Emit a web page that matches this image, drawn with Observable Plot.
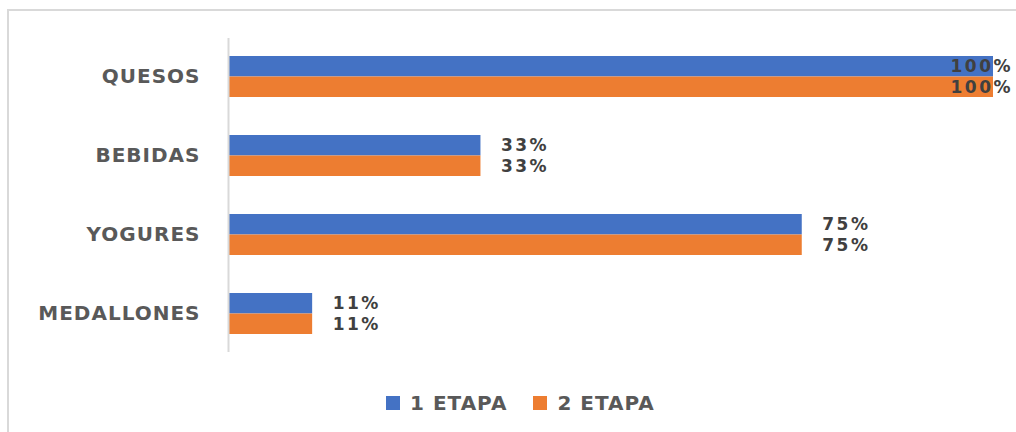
<!DOCTYPE html>
<html>
<head>
<meta charset="utf-8">
<script src="https://cdn.jsdelivr.net/npm/d3@7"></script>
<script src="https://cdn.jsdelivr.net/npm/@observablehq/plot@0.6"></script>
<style>
  html, body { margin: 0; padding: 0; background: #fff; }
  #wrap { position: relative; width: 1016px; height: 432px; overflow: hidden; font-family: "DejaVu Sans", sans-serif; }
  #border { position: absolute; left: 7px; top: 9px; width: 1100px; height: 500px; border-left: 2px solid #d9d9d9; border-top: 2px solid #d9d9d9; box-sizing: border-box; pointer-events: none; }
  #legend { position: absolute; left: 386px; top: 391px; display: flex; align-items: center; font-size: 20px; font-weight: bold; letter-spacing: 1px; color: #595959; }
  #legend .item { display: flex; align-items: center; margin-right: 26px; }
  #legend .sw { width: 14px; height: 14px; margin-right: 10px; }
  .vlabel text { letter-spacing: 2.5px; }
</style>
</head>
<body>
<div id="wrap"><div id="chart"></div><div id="border"></div><div id="legend"></div></div>
<script>
const categories = ["QUESOS", "BEBIDAS", "YOGURES", "MEDALLONES"];
const etapa1 = [100, 33, 75, 11];
const etapa2 = [100, 33, 75, 11];
const seriesNames = ["1 ETAPA", "2 ETAPA"];
const seriesColors = ["#4472C4", "#ED7D31"];

const data = categories.map((c, i) => ({category: c, v1: etapa1[i], v2: etapa2[i]}));

const W = 1016, H = 380, mT = 38, mB = H - 352;
const padIn = 0.484, padOut = 0.217;
const step = (H - mT - mB) / (categories.length - padIn + 2 * padOut);
const bw = step * (1 - padIn);
const half = bw / 2;

const label = d => d + "%";
const small1 = data.filter(d => d.v1 < 100), full1 = data.filter(d => d.v1 >= 100);
const small2 = data.filter(d => d.v2 < 100), full2 = data.filter(d => d.v2 >= 100);
const tStyle = {fill: "#404040", textAnchor: "start", fontSize: 17, fontWeight: "bold", className: "vlabel"};

const plot = Plot.plot({
  width: W, height: H,
  marginLeft: 228, marginRight: 23, marginTop: mT, marginBottom: mB,
  style: {fontFamily: "DejaVu Sans", fontSize: "20px", fontWeight: "bold", letterSpacing: "1px", color: "#595959", background: "transparent", overflow: "visible"},
  x: {domain: [0, 100], axis: null},
  y: {domain: categories, paddingInner: padIn, paddingOuter: padOut, label: null, tickSize: 0, tickPadding: 28},
  marks: [
    Plot.barX(data, {y: "category", x: "v1", fill: seriesColors[0], insetBottom: half}),
    Plot.barX(data, {y: "category", x: "v2", fill: seriesColors[1], insetTop: half}),
    Plot.ruleX([0], {stroke: "#d9d9d9", strokeWidth: 2}),
    Plot.text(small1, {y: "category", x: "v1", text: d => label(d.v1), dx: 20, dy: -half / 2, ...tStyle}),
    Plot.text(full1, {y: "category", x: "v1", text: d => label(d.v1), dx: -43, dy: -half / 2, ...tStyle}),
    Plot.text(small2, {y: "category", x: "v2", text: d => label(d.v2), dx: 20, dy: half / 2, ...tStyle}),
    Plot.text(full2, {y: "category", x: "v2", text: d => label(d.v2), dx: -43, dy: half / 2, ...tStyle})
  ]
});
document.getElementById("chart").appendChild(plot);

const legend = document.getElementById("legend");
seriesNames.forEach((name, i) => {
  const item = document.createElement("div");
  item.className = "item";
  const sw = document.createElement("span");
  sw.className = "sw";
  sw.style.background = seriesColors[i];
  const t = document.createElement("span");
  t.textContent = name;
  item.appendChild(sw); item.appendChild(t);
  legend.appendChild(item);
});
</script>
</body>
</html>
